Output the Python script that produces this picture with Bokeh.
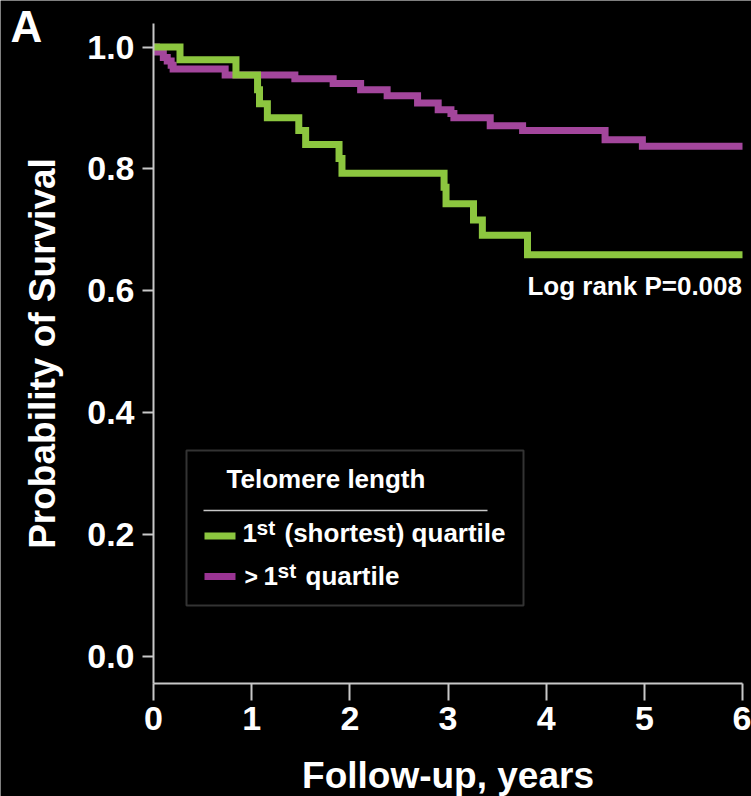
from bokeh.plotting import figure
from bokeh.models import FixedTicker, Label, Range1d, NumeralTickFormatter, BoxAnnotation
from bokeh.embed import file_html
from bokeh.resources import INLINE

# ---------------- data ----------------
legend_title = "Telomere length"
group_short = "1st (shortest) quartile"
group_long = "> 1st quartile"
p_value_text = "Log rank P=0.008"

short_times = [0.0, 0.27, 0.84, 1.06, 1.08, 1.16, 1.48, 1.55, 1.89, 1.92,
               2.96, 2.98, 3.26, 3.35, 3.81, 6.0]
short_surv = [1.0, 0.979, 0.954, 0.930, 0.907, 0.884, 0.863, 0.840, 0.817, 0.793,
              0.770, 0.743, 0.716, 0.691, 0.659, 0.659]

long_times = [0.0, 0.03, 0.10, 0.14, 0.18, 0.20, 0.73, 1.44, 1.83, 2.11,
              2.38, 2.69, 2.90, 3.03, 3.06, 3.43, 3.76, 4.60, 4.98, 6.0]
long_surv = [1.0, 0.992, 0.983, 0.977, 0.970, 0.964, 0.954, 0.948, 0.940, 0.930,
             0.920, 0.908, 0.897, 0.891, 0.884, 0.871, 0.863, 0.848, 0.837, 0.837]

x_ticks = [0, 1, 2, 3, 4, 5, 6]
y_ticks = [0.0, 0.2, 0.4, 0.6, 0.8, 1.0]

# ---------------- layout ----------------
W, H = 751, 796
# pixel box of the drawn axes (spines) and the data values at its edges
AX_L, AX_R, AX_T, AX_B = 153, 742, 23, 683
X_LO, X_HI = 0.0, 6.0
Y_LO, Y_HI = -0.0443, 1.0386

GREEN = "#8CC63F"
PURPLE = "#A3469C"
PURPLE_SW = "#9A3493"
AXIS = "#c8c8c8"
FONT = "Liberation Sans"
BASE_SHIFT = 0.36  # em: label anchor sits this far below the glyph baseline


def dx(px):
    return X_LO + (px - AX_L) / (AX_R - AX_L) * (X_HI - X_LO)


def dy(py):
    return Y_HI - (py - AX_T) / (AX_B - AX_T) * (Y_HI - Y_LO)


def text_label(txt, px, baseline_px, size, align="left"):
    return Label(x=dx(px), y=dy(baseline_px - BASE_SHIFT * size), text=txt,
                 text_align=align, text_baseline="alphabetic", text_font=FONT,
                 text_font_style="bold", text_font_size=f"{size}px",
                 text_color="white")


# the frame covers the whole canvas; axes are pinned at fixed data locations
p = figure(width=W, height=H, output_backend="svg", toolbar_location=None,
           x_range=Range1d(dx(0), dx(W)), y_range=Range1d(dy(H), dy(0)),
           min_border=0, min_border_left=0, min_border_right=0,
           min_border_top=0, min_border_bottom=0)
p.background_fill_color = "black"
p.border_fill_color = "black"
p.outline_line_color = None
p.grid.visible = False

for ax in (p.xaxis[0], p.yaxis[0]):
    ax.axis_line_color = AXIS
    ax.axis_line_width = 2
    ax.major_tick_line_color = AXIS
    ax.major_tick_line_width = 2
    ax.major_tick_in = 0
    ax.minor_tick_line_color = None
    ax.major_label_text_font = FONT
    ax.major_label_text_font_style = "bold"
    ax.major_label_text_font_size = "34px"
    ax.major_label_text_color = "white"
    ax.axis_label_text_font = FONT
    ax.axis_label_text_font_style = "bold"
    ax.axis_label_text_font_size = "37px"
    ax.axis_label_text_color = "white"

p.xaxis.fixed_location = Y_LO
p.yaxis.fixed_location = X_LO
p.xaxis.bounds = (X_LO, X_HI)
p.yaxis.bounds = (Y_LO, Y_HI)
p.xaxis.ticker = FixedTicker(ticks=x_ticks)
p.yaxis.ticker = FixedTicker(ticks=y_ticks)
p.xaxis.formatter = NumeralTickFormatter(format="0")
p.yaxis.formatter = NumeralTickFormatter(format="0.0")
p.xaxis.major_tick_out = 17
p.yaxis.major_tick_out = 11
p.xaxis.major_label_standoff = 6
p.yaxis.major_label_standoff = 8
p.xaxis.axis_label = "Follow-up, years"
p.yaxis.axis_label = "Probability of Survival"
p.xaxis.axis_label_standoff = 22
p.yaxis.axis_label_standoff = 21

# survival curves
p.step(long_times, long_surv, mode="after", line_color=PURPLE, line_width=7,
       line_join="miter", line_cap="butt")
p.step(short_times, short_surv, mode="after", line_color=GREEN, line_width=7,
       line_join="miter", line_cap="butt")

# p-value and panel letter
p.add_layout(text_label(p_value_text, 741.5, 295, 26, align="right"))
p.add_layout(text_label("A", 10, 42, 44))

# legend box
p.add_layout(BoxAnnotation(left=dx(186), right=dx(523), top=dy(450), bottom=dy(605),
                           fill_color="black", fill_alpha=1.0, line_color="#a8a8a8",
                           line_width=2, level="underlay"))
p.add_layout(text_label(legend_title, 226, 488, 26))
p.segment(x0=[dx(203)], y0=[dy(510)], x1=[dx(487)], y1=[dy(510)],
          line_color="#c8c8c8", line_width=1.5)
p.segment(x0=[dx(204)], y0=[dy(535.5)], x1=[dx(235)], y1=[dy(535.5)],
          line_color=GREEN, line_width=7, line_cap="butt")
p.segment(x0=[dx(204)], y0=[dy(576)], x1=[dx(235)], y1=[dy(576)],
          line_color=PURPLE_SW, line_width=7, line_cap="butt")

base1, sup1 = 542, 535
base2, sup2 = 585, 578
parts = [
    ("1", 242, base1, 26),
    ("st", 256, sup1, 21),
    (group_short.split(" ", 1)[1], 284, base1, 26),
    (">", 244, base2, 23),
    ("1", 263, base2, 26),
    ("st", 277, sup2, 21),
    (group_long.split(" ", 2)[2], 305, base2, 26),
]
for txt, px, py, fs in parts:
    p.add_layout(text_label(txt, px, py, fs))

open("out.html", "w").write(file_html(p, INLINE))
